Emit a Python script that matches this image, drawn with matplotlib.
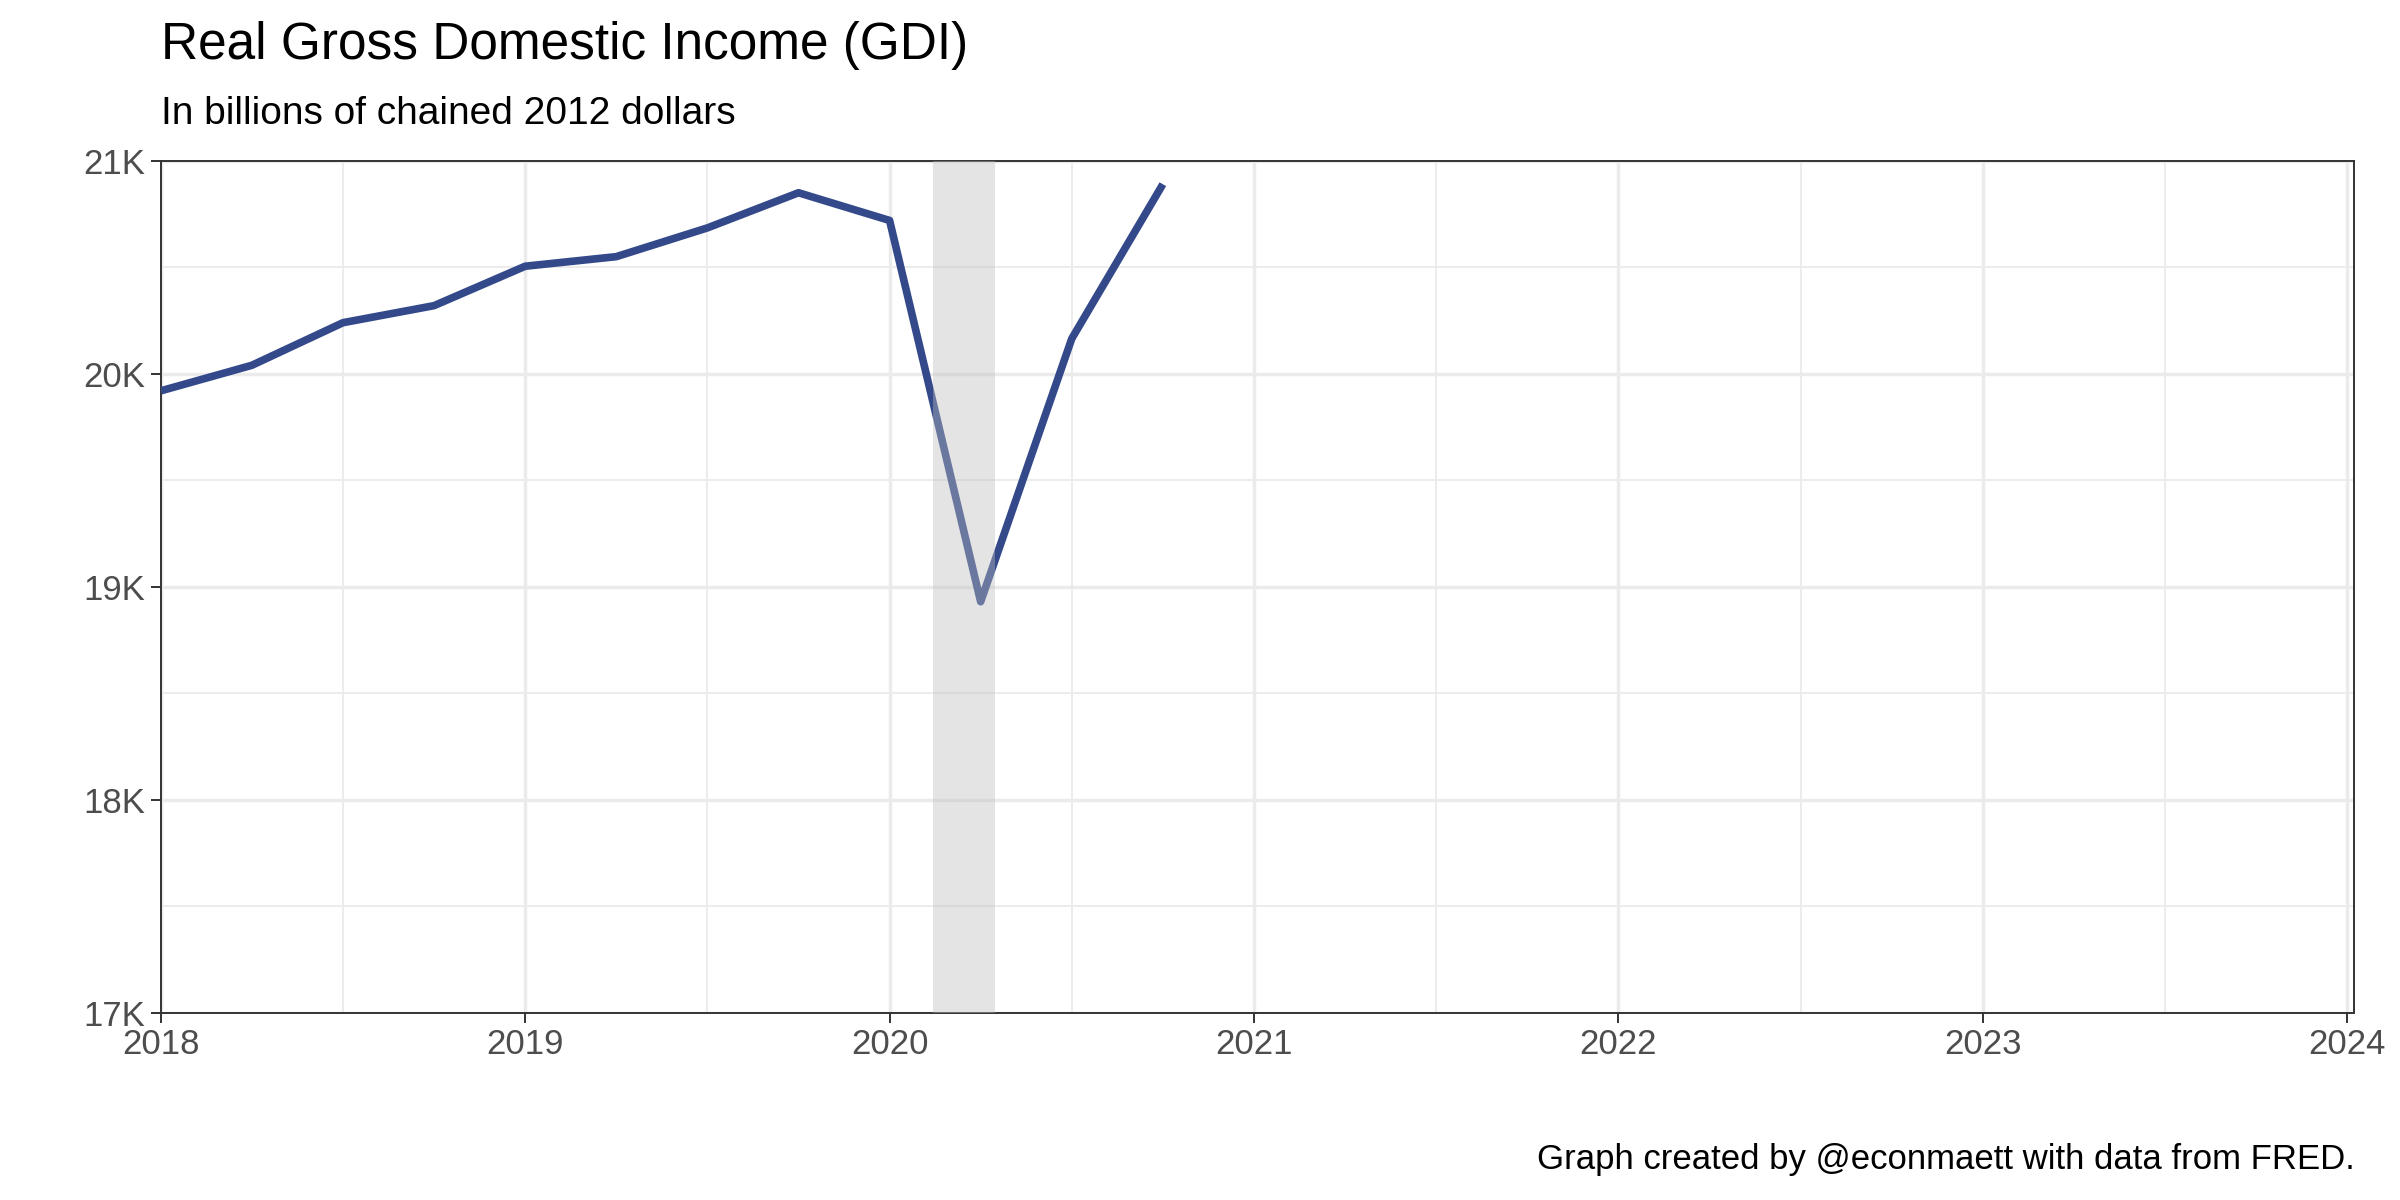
import numpy as np
import matplotlib
matplotlib.use("Agg")
import matplotlib.pyplot as plt
from matplotlib.ticker import FuncFormatter, MultipleLocator

plt.rcParams['font.family'] = ['Liberation Sans', 'DejaVu Sans']

# quarterly data (decimal year, billions chained 2012 $)
quarters = [2018.0, 2018.25, 2018.5, 2018.75, 2019.0, 2019.25, 2019.5, 2019.75,
            2020.0, 2020.25, 2020.5, 2020.75]
gdi = [19920, 20040, 20240, 20320, 20505, 20550, 20685, 20850,
       20720, 18930, 20165, 20890]
recession = (2020.12, 2020.29)

fig = plt.figure(figsize=(24, 12), dpi=100)
ax = fig.add_axes([0.067, 0.156, 0.914, 0.71])

ax.plot(quarters, gdi, color='#34498a', lw=5.5, zorder=3, solid_capstyle='butt')
ax.axvspan(*recession, color='#bdbdbd', alpha=0.4, lw=0, zorder=4)

ax.set_xlim(2018, 2024.02)
ax.set_ylim(17000, 21000)
ax.xaxis.set_major_locator(MultipleLocator(1))
ax.xaxis.set_minor_locator(MultipleLocator(0.5))
ax.yaxis.set_major_locator(MultipleLocator(1000))
ax.yaxis.set_minor_locator(MultipleLocator(500))
ax.xaxis.set_major_formatter(FuncFormatter(lambda v, p: f"{int(round(v))}"))
ax.yaxis.set_major_formatter(FuncFormatter(lambda v, p: f"{int(v/1000)}K"))
ax.grid(which='major', color='#ebebeb', lw=2.5)
ax.grid(which='minor', color='#ebebeb', lw=1.3)
ax.set_axisbelow(True)
for s in ax.spines.values():
    s.set_color('#333333')
    s.set_linewidth(1.4)
ax.tick_params(which='major', length=7, width=1.4, color='#333333',
               labelsize=25, labelcolor='#4d4d4d', pad=4)
ax.tick_params(which='minor', length=0)

fig.text(0.067, 0.942, "Real Gross Domestic Income (GDI)", fontsize=37, va='bottom')
fig.text(0.067, 0.89, "In billions of chained 2012 dollars", fontsize=28, va='bottom')
fig.text(0.981, 0.02, "Graph created by @econmaett with data from FRED.",
         fontsize=25, ha='right', va='bottom')

fig.savefig("out.png")
